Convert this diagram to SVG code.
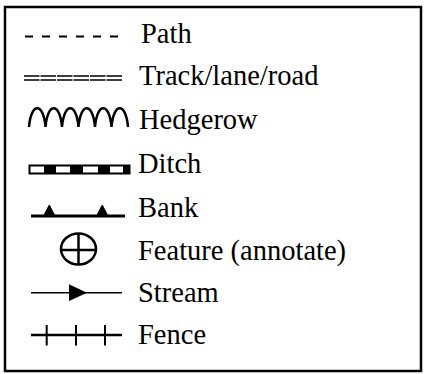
<svg xmlns="http://www.w3.org/2000/svg" width="424" height="374" viewBox="0 0 424 374">
<style>
text{font-family:"Liberation Serif","Times New Roman",serif;font-size:28.5px;fill:#000}
.s{fill:none;stroke:#000;stroke-linecap:butt}
</style>
<rect width="424" height="374" fill="#fff"/>
<rect x="5" y="7" width="416" height="364" fill="none" stroke="#000" stroke-width="2.5"/>
<g id="path">
<line class="s" x1="25" y1="36.5" x2="118" y2="36.5" stroke-width="2" stroke-dasharray="8 9"/>
<text x="141" y="43">Path</text>
</g>
<g id="track">
<line class="s" x1="24" y1="76" x2="122" y2="76" stroke-width="1.3" stroke-dasharray="15.5 1"/>
<line class="s" x1="24" y1="80" x2="122" y2="80" stroke-width="1.3" stroke-dasharray="15.5 1"/>
<text x="139" y="85">Track/lane/road</text>
</g>
<g id="hedgerow">
<path class="s" stroke-width="2.5" stroke-linejoin="miter" d="M29 127 C31 102 43.5 102 45.5 127 C47.5 102 60 102 62 127 C64 102 76.5 102 78.5 127 C80.5 102 93 102 95 127 C97 102 109.5 102 111.5 127 C113.5 102 126 102 128 127"/>
<text x="139" y="129">Hedgerow</text>
</g>
<g id="ditch">
<rect x="29.5" y="165.5" width="100" height="8" fill="#fff" stroke="#000" stroke-width="2"/>
<rect x="44" y="165" width="12" height="9" fill="#000"/>
<rect x="70" y="165" width="13" height="9" fill="#000"/>
<rect x="98" y="165" width="12" height="9" fill="#000"/>
<rect x="123" y="165" width="7" height="9" fill="#000"/>
<text x="138" y="173">Ditch</text>
</g>
<g id="bank">
<line class="s" x1="31" y1="216" x2="125" y2="216" stroke-width="3"/>
<path d="M43.5 216 L49.3 205 L55 216 Z M96.5 216 L102.3 205 L108 216 Z" fill="#000" stroke="#000" stroke-width="1" stroke-linejoin="round"/>
<text x="138" y="217">Bank</text>
</g>
<g id="feature">
<ellipse class="s" cx="78.5" cy="249" rx="17.5" ry="15.5" stroke-width="2.5"/>
<line class="s" x1="61" y1="250" x2="96" y2="250" stroke-width="2.5"/>
<line class="s" x1="78.5" y1="233.5" x2="78.5" y2="264.5" stroke-width="2.5"/>
<text x="138" y="260">Feature (annotate)</text>
</g>
<g id="stream">
<line class="s" x1="31" y1="292.7" x2="122" y2="292.7" stroke-width="1.5"/>
<path d="M69 284.3 L87 292.7 L69 301 Z" fill="#000"/>
<text x="138" y="302">Stream</text>
</g>
<g id="fence">
<line class="s" x1="31" y1="335" x2="122" y2="335" stroke-width="2.5"/>
<line class="s" x1="46.7" y1="325" x2="46.7" y2="345.5" stroke-width="2"/>
<line class="s" x1="76" y1="325" x2="76" y2="345.5" stroke-width="2"/>
<line class="s" x1="105" y1="325" x2="105" y2="345.5" stroke-width="2"/>
<text x="138" y="344">Fence</text>
</g>
</svg>
